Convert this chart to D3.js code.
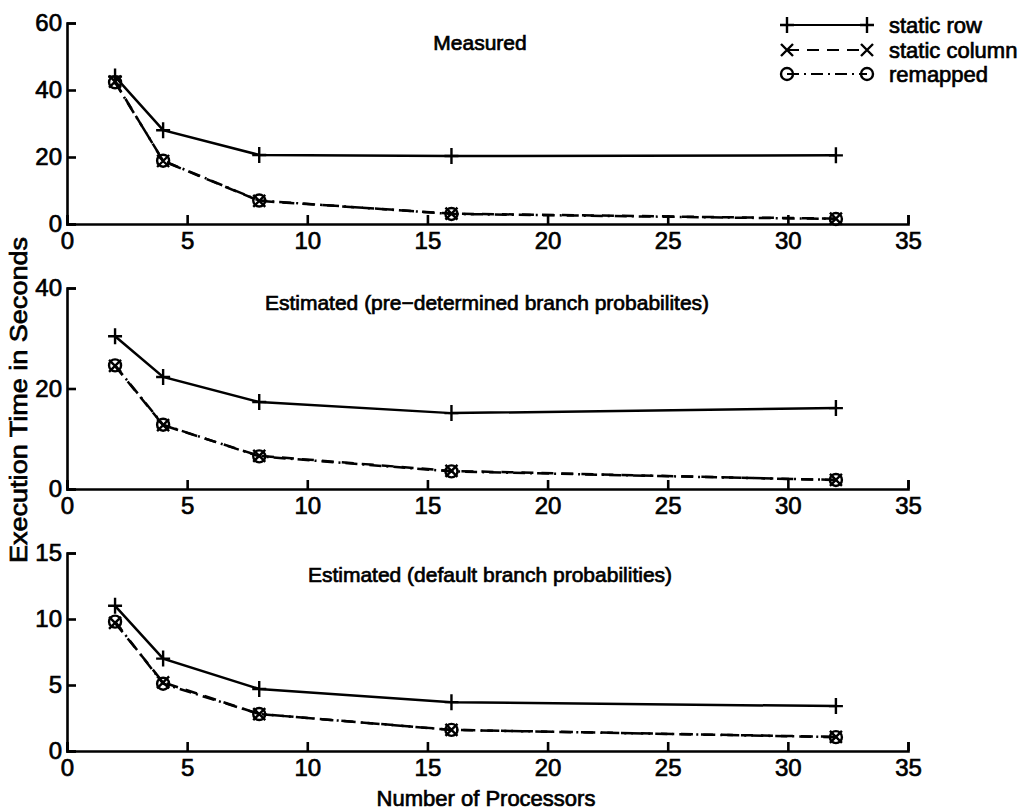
<!DOCTYPE html>
<html>
<head>
<meta charset="utf-8">
<script src="https://cdn.jsdelivr.net/npm/d3@7"></script>
<style>
  body { margin: 0; background: #fff; }
  svg { font-family: "Liberation Sans", Arial, sans-serif; }
  svg text { fill: #000; stroke: #000; stroke-width: 0.7; }
  .axis path, .axis line { stroke: #000; stroke-width: 2.6; }
  .axis text { font-size: 24px; }
</style>
</head>
<body>
<div id="plot"></div>
<script>
// Data
const procs = [2, 4, 8, 16, 32];

const measuredRow   = [44.0, 28.0, 20.6, 20.3, 20.5];
const measuredCol   = [42.5, 18.8, 6.9, 3.1, 1.6];
const measuredRemap = [42.3, 18.9, 7.0, 3.0, 1.5];

const predetRow   = [30.4, 22.3, 17.3, 15.1, 16.1];
const predetCol   = [24.5, 12.7, 6.6, 3.6, 1.8];
const predetRemap = [24.6, 12.8, 6.5, 3.5, 1.8];

const defaultRow   = [11.0, 7.0, 4.7, 3.7, 3.4];
const defaultCol   = [9.7, 5.2, 2.8, 1.6, 1.07];
const defaultRemap = [9.8, 5.1, 2.8, 1.6, 1.05];

const xTicks = [0, 5, 10, 15, 20, 25, 30, 35];
const seriesNames = ["static row", "static column", "remapped"];
const seriesDash = [null, "12,8", "12,5,2,5"];
const seriesMarker = ["plus", "cross", "circle"];

const panels = [
  {title: "Measured", ymax: 60, yTicks: [0, 20, 40, 60], top: 23, bottom: 224, titleX: 480, titleY: 50,
   series: [measuredRow, measuredCol, measuredRemap]},
  {title: "Estimated (pre\u2212determined branch probabilites)", ymax: 40, yTicks: [0, 20, 40], top: 288, bottom: 489, titleX: 487, titleY: 310,
   series: [predetRow, predetCol, predetRemap]},
  {title: "Estimated (default branch probabilities)", ymax: 15, yTicks: [0, 5, 10, 15], top: 553, bottom: 751, titleX: 490, titleY: 582,
   series: [defaultRow, defaultCol, defaultRemap]}
];

const width = 1023, height = 811;
const left = 67, right = 908;

const svg = d3.select("#plot")
  .append("svg")
  .attr("width", width)
  .attr("height", height);

const x = d3.scaleLinear().domain([0, 35]).range([left, right]);

// draw a marker of given type centred on (cx, cy)
function marker(g, type, cx, cy) {
  if (type === "plus") {
    g.append("path")
      .attr("d", `M${cx - 7},${cy}H${cx + 7}M${cx},${cy - 8}V${cy + 8}`)
      .attr("stroke", "#000").attr("stroke-width", 2.4);
  } else if (type === "cross") {
    g.append("path")
      .attr("d", `M${cx - 6},${cy - 6}L${cx + 6},${cy + 6}M${cx - 6},${cy + 6}L${cx + 6},${cy - 6}`)
      .attr("stroke", "#000").attr("stroke-width", 2.4);
  } else {
    g.append("circle")
      .attr("cx", cx).attr("cy", cy).attr("r", 6)
      .attr("fill", "none").attr("stroke", "#000").attr("stroke-width", 2.4);
  }
}

panels.forEach(p => {
  const y = d3.scaleLinear().domain([0, p.ymax]).range([p.bottom, p.top]);
  const g = svg.append("g");

  // Axes with inward ticks
  g.append("g")
    .attr("class", "axis")
    .attr("transform", `translate(0,${p.bottom})`)
    .call(d3.axisBottom(x).tickValues(xTicks).tickSize(-9).tickPadding(8));

  g.append("g")
    .attr("class", "axis")
    .attr("transform", `translate(${left},0)`)
    .call(d3.axisLeft(y).tickValues(p.yTicks).tickSize(-9).tickPadding(5));

  g.selectAll(".axis").attr("font-family", null);

  // Title
  g.append("text")
    .attr("x", p.titleX).attr("y", p.titleY)
    .attr("text-anchor", "middle")
    .attr("font-size", 21)
    .text(p.title);

  // Lines and markers
  p.series.forEach((vals, i) => {
    const pts = procs.map((d, k) => [x(d), y(vals[k])]);
    g.append("path")
      .attr("d", d3.line()(pts))
      .attr("fill", "none")
      .attr("stroke", "#000")
      .attr("stroke-width", 2.5)
      .attr("stroke-dasharray", seriesDash[i]);
    pts.forEach(pt => marker(g, seriesMarker[i], pt[0], pt[1]));
  });
});

// Legend
const legendY = [25, 50, 74];
const legend = svg.append("g");
seriesNames.forEach((name, i) => {
  legend.append("line")
    .attr("x1", 787).attr("x2", 867)
    .attr("y1", legendY[i]).attr("y2", legendY[i])
    .attr("stroke", "#000").attr("stroke-width", 2.2)
    .attr("stroke-dasharray", seriesDash[i]);
  marker(legend, seriesMarker[i], 787, legendY[i]);
  marker(legend, seriesMarker[i], 867, legendY[i]);
  legend.append("text")
    .attr("x", 889).attr("y", legendY[i] + 8)
    .attr("font-size", 22)
    .text(name);
});

// Axis labels
svg.append("text")
  .attr("x", 486).attr("y", 806)
  .attr("text-anchor", "middle")
  .attr("font-size", 22)
  .text("Number of Processors");

svg.append("text")
  .attr("transform", "translate(27,400) rotate(-90)")
  .attr("text-anchor", "middle")
  .attr("font-size", 23)
  .attr("textLength", 326)
  .attr("lengthAdjust", "spacingAndGlyphs")
  .text("Execution Time in Seconds");
</script>
</body>
</html>
